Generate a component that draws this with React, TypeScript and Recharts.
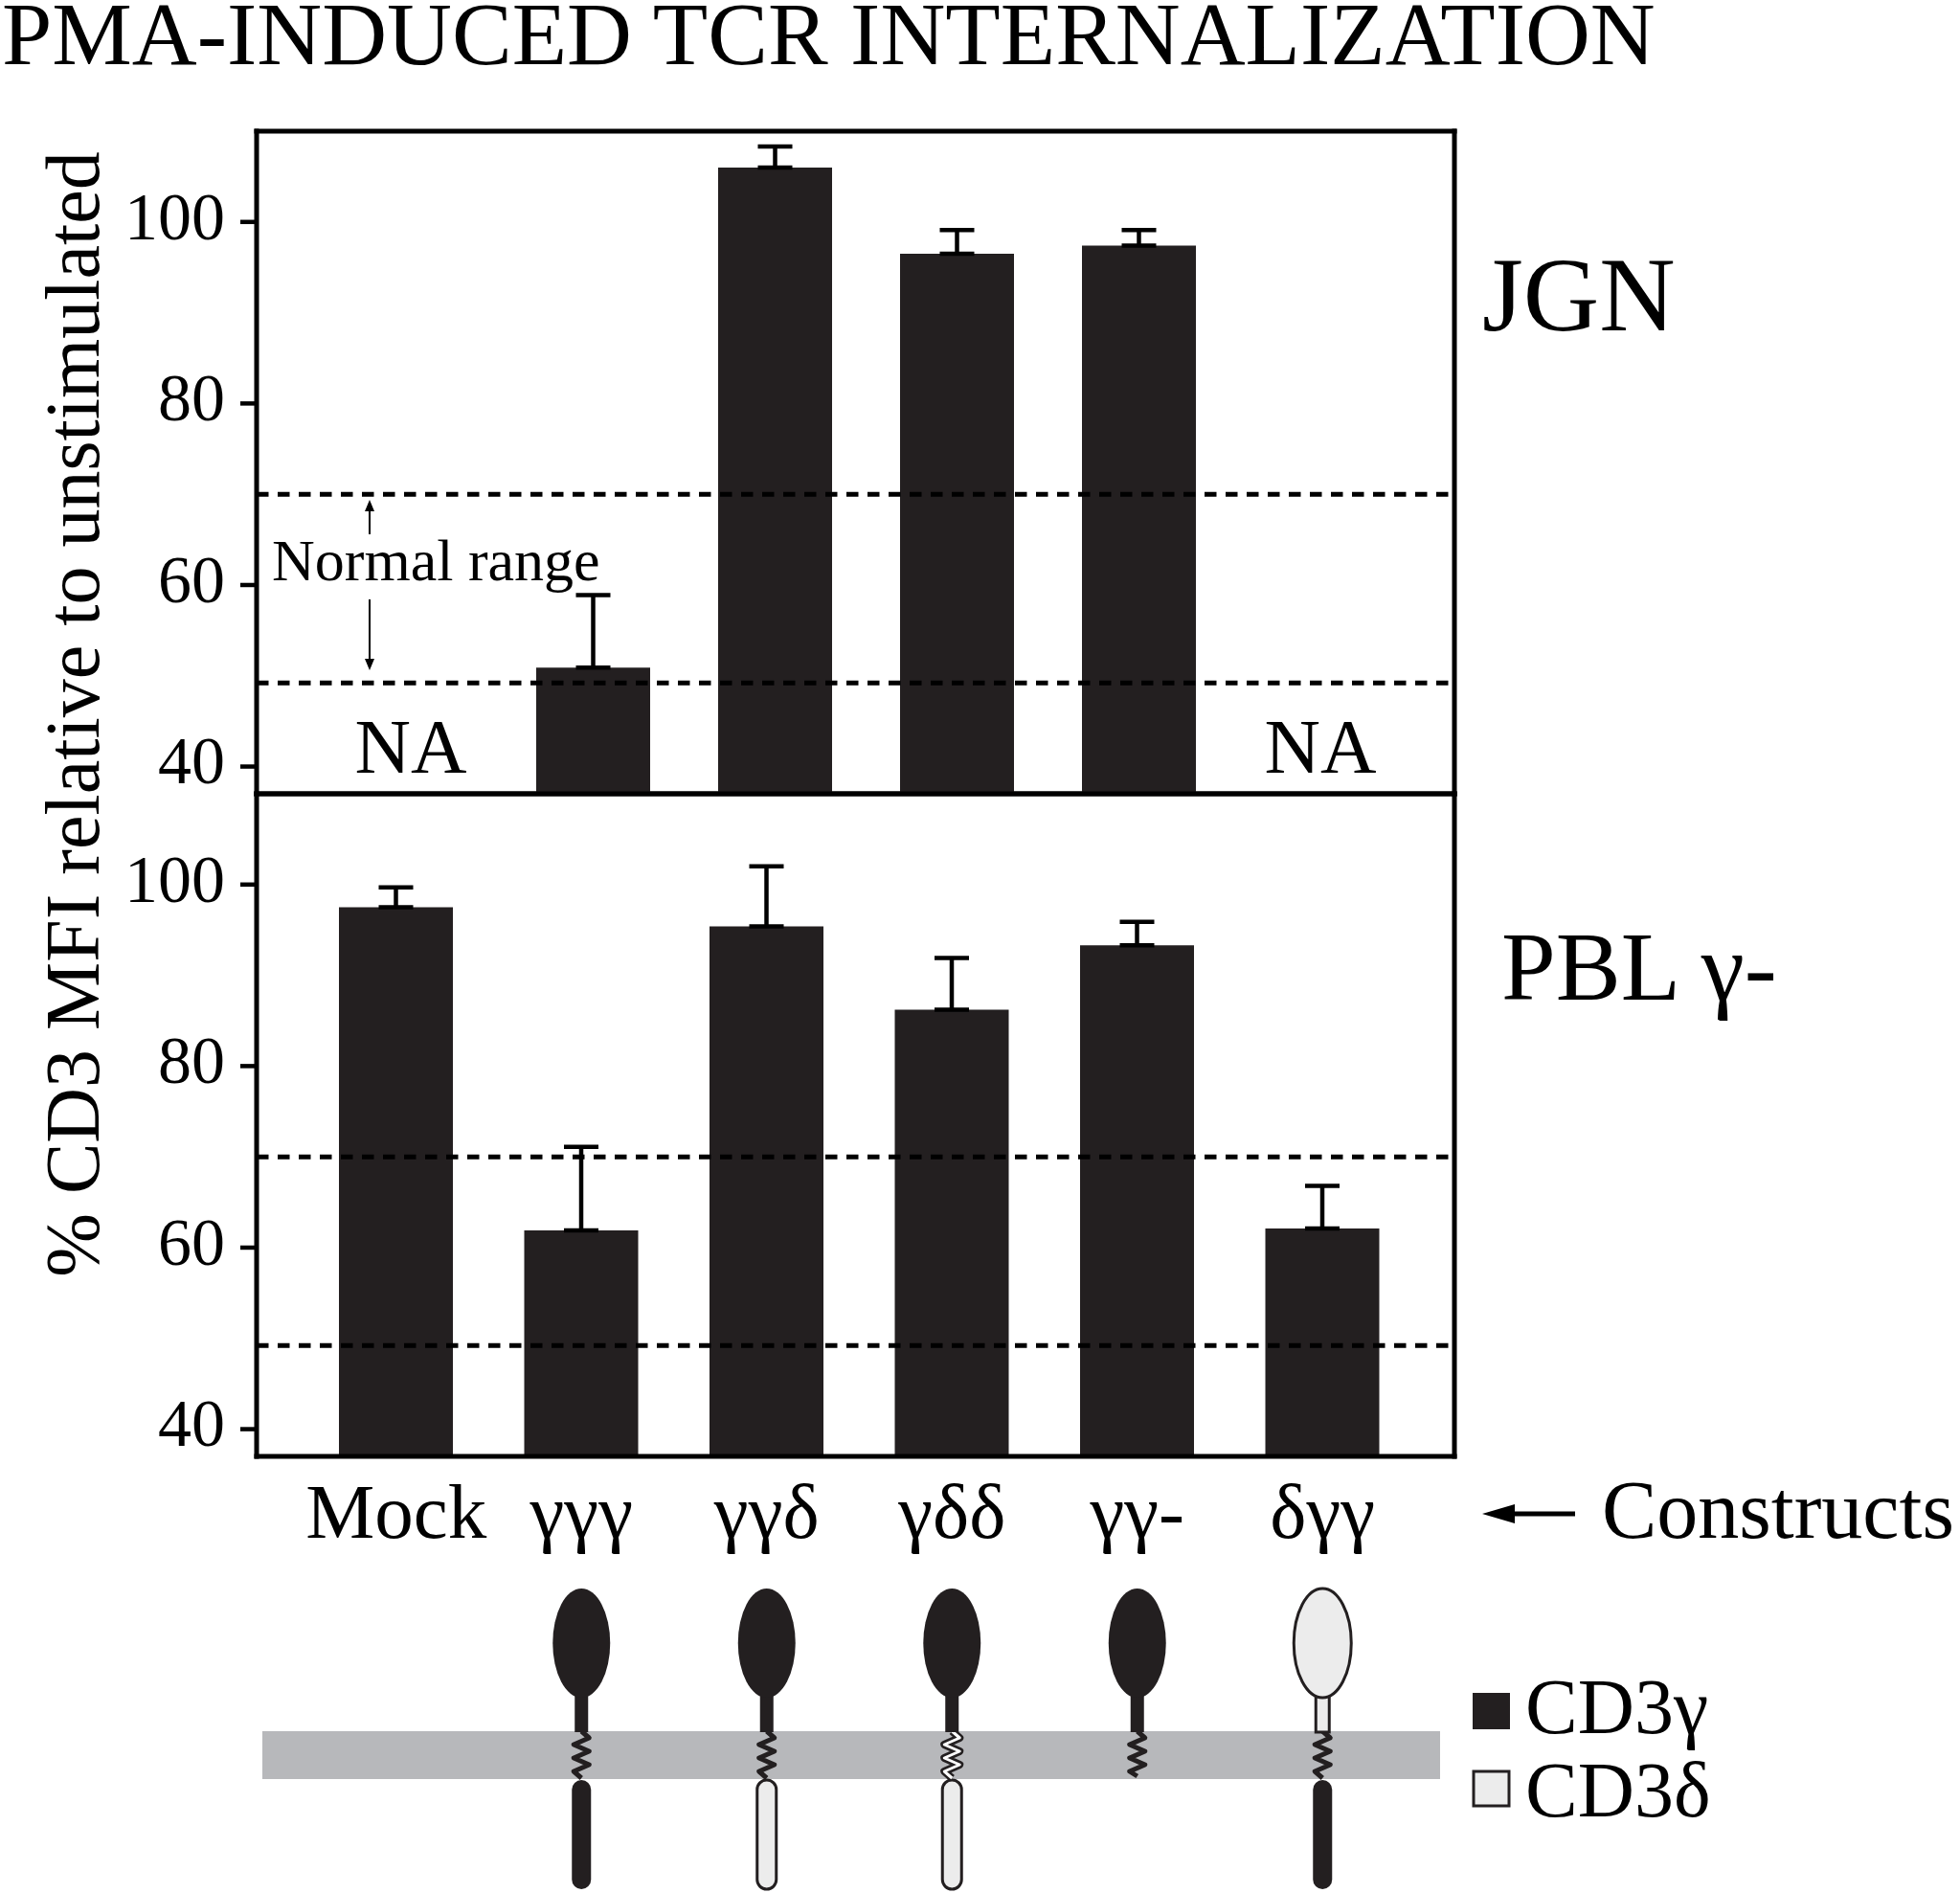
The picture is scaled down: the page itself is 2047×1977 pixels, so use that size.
import React from "react";
import { BarChart, Bar, XAxis, YAxis, ErrorBar, ReferenceLine } from "recharts";

const constructs = ["Mock", "γγγ", "γγδ", "γδδ", "γγ-", "δγγ"];
const jgnValues = [null, 50.9, 106.0, 96.5, 97.4, null];
const jgnErrors = [null, 8.0, 2.3, 2.6, 1.7, null];
const pblValues = [97.5, 61.9, 95.4, 86.2, 93.3, 62.1];
const pblErrors = [2.2, 9.2, 6.6, 5.7, 2.6, 4.7];
const yTicks = [40, 60, 80, 100];
const normalRange = [49.2, 70];
// which subunit each part of the construct comes from (extracellular / TM / cytoplasmic)
const headParts = [null, "γ", "γ", "γ", "γ", "δ"];
const tmParts = [null, "γ", "γ", "δ", "γ", "γ"];
const tailParts = [null, "γ", "δ", "δ", null, "γ"];

const FONT = '"Liberation Serif", "Times New Roman", serif';
const DARK = "#231f20";
const LIGHT = "#ececec";
const W = 2047;

const jgnData = constructs.map((name, i) => ({
  name,
  value: jgnValues[i],
  err: jgnErrors[i] == null ? null : [0, jgnErrors[i]],
}));
const pblData = constructs.map((name, i) => ({
  name,
  value: pblValues[i],
  err: [0, pblErrors[i]],
}));

const frameLine = { stroke: "#000", strokeWidth: 5, strokeLinecap: "square" as const };
const yTick = { fontSize: 70, fill: "#000", fontFamily: FONT, dy: -7 };

function ConstructTick(props: any) {
  const { x, y, payload } = props;
  const i = constructs.indexOf(payload.value);
  const head = headParts[i];
  const tm = tmParts[i];
  const tail = tailParts[i];
  const fillOf = (p: string | null) => (p === "δ" ? LIGHT : DARK);
  const strokeOf = (p: string | null) => (p === "δ" ? DARK : "none");

  const zig: string[] = [];
  const z0 = y + 287;
  const zEnd = tail ? y + 336 : y + 334;
  zig.push(`${x},${z0}`);
  for (let k = 1; k < 7; k++) zig.push(`${x + (k % 2 ? 8 : -8)},${z0 + k * 7}`);
  zig.push(`${x},${zEnd}`);
  const pts = zig.join(" ");

  return (
    <g>
      <text x={x} y={y + 85} textAnchor="middle" fontSize={81} fontFamily={FONT} fill="#000">
        {payload.value}
      </text>
      {head && (
        <g>
          {tail && (
            <rect x={x - 10} y={y + 338} width={20} height={114} rx={10}
              fill={fillOf(tail)} stroke={strokeOf(tail)} strokeWidth={3} />
          )}
          {tm === "δ" ? (
            <g>
              <polyline points={pts} fill="none" stroke={DARK} strokeWidth={8} strokeLinejoin="round" />
              <polyline points={pts} fill="none" stroke="#fff" strokeWidth={3} strokeLinejoin="round" />
            </g>
          ) : (
            <polyline points={pts} fill="none" stroke={DARK} strokeWidth={5} strokeLinejoin="round" />
          )}
          <rect x={x - 7} y={y + 245} width={14} height={43}
            fill={fillOf(head)} stroke={strokeOf(head)} strokeWidth={3} />
          <ellipse cx={x} cy={y + 195} rx={30} ry={57}
            fill={fillOf(head)} stroke={strokeOf(head)} strokeWidth={3} />
        </g>
      )}
    </g>
  );
}

export default function App() {
  return (
    <div style={{ position: "absolute", left: 0, top: 0, width: W, height: 1977, background: "#fff" }}>
      <svg width={W} height={1977} style={{ position: "absolute", left: 0, top: 0 }}>
        <text x={2} y={67} fontSize={94} fontFamily={FONT} fill="#000">PMA-INDUCED TCR INTERNALIZATION</text>
        <text x={103} y={746} fontSize={80} fontFamily={FONT} fill="#000" textAnchor="middle"
          transform="rotate(-90 103 746)">% CD3 MFI relative to unstimulated</text>
        <text x={1548} y={345} fontSize={110} fontFamily={FONT} fill="#000">JGN</text>
        <text x={1568} y={1044} fontSize={102} fontFamily={FONT} fill="#000">PBL γ-</text>
        <text x={284} y={606} fontSize={62} fontFamily={FONT} fill="#000">Normal range</text>
        <line x1={386} y1={558} x2={386} y2={530} stroke="#000" strokeWidth={2} />
        <polygon points="386,522 381,534 391,534" fill="#000" />
        <line x1={386} y1={626} x2={386} y2={692} stroke="#000" strokeWidth={2} />
        <polygon points="386,700 381,688 391,688" fill="#000" />
        <line x1={1572} y1={1581} x2={1645} y2={1581} stroke="#000" strokeWidth={5} />
        <polygon points="1548,1581 1582,1571 1582,1591" fill="#000" />
        <text x={1673} y={1606} fontSize={86} fontFamily={FONT} fill="#000">Constructs</text>
        <rect x={274} y={1808} width={1230} height={50} fill="#b7b8bb" />
        <rect x={1538} y={1768} width={39} height={38} fill={DARK} />
        <text x={1593} y={1810} fontSize={82} fontFamily={FONT} fill="#000">CD3γ</text>
        <rect x={1539} y={1850} width={37} height={36} fill={LIGHT} stroke={DARK} strokeWidth={3} />
        <text x={1593} y={1897} fontSize={82} fontFamily={FONT} fill="#000">CD3δ</text>
      </svg>

      <div style={{ position: "absolute", left: 0, top: 0 }}>
        <BarChart width={W} height={1977} data={pblData}
          margin={{ top: 828, right: W - 1520, bottom: 0, left: 148 }}>
          <XAxis dataKey="name" height={456} axisLine={frameLine} tickLine={false} tickSize={0}
            tickMargin={0} interval={0} padding={{ left: 49, right: 41 }} tick={<ConstructTick />} />
          <XAxis xAxisId="top" dataKey="name" orientation="top" height={1} tick={false}
            tickLine={false} axisLine={frameLine} />
          <YAxis type="number" domain={[37, 110]} ticks={yTicks} width={120} axisLine={frameLine}
            tickLine={{ stroke: "#000", strokeWidth: 4.5 }} tickSize={17} tickMargin={16} tick={yTick} />
          <YAxis yAxisId="right" orientation="right" width={1} tick={false} tickLine={false}
            axisLine={frameLine} />
          {normalRange.map((v) => (
            <ReferenceLine key={v} y={v} stroke="#000" strokeWidth={5} strokeDasharray="12.5 9.5" />
          ))}
          <Bar dataKey="value" fill={DARK} barSize={119} isAnimationActive={false}>
            <ErrorBar dataKey="err" width={18} stroke="#000" strokeWidth={4.5} isAnimationActive={false} />
          </Bar>
        </BarChart>
      </div>

      <div style={{ position: "absolute", left: 0, top: 0 }}>
        <BarChart width={W} height={880} data={jgnData}
          margin={{ top: 136, right: W - 1520, bottom: 50, left: 148 }}>
          <XAxis dataKey="name" height={1} axisLine={frameLine} tick={false} tickLine={false}
            padding={{ left: 66, right: 45 }} />
          <XAxis xAxisId="top" dataKey="name" orientation="top" height={1} tick={false}
            tickLine={false} axisLine={frameLine} />
          <YAxis type="number" domain={[37, 110]} ticks={yTicks} width={120} axisLine={frameLine}
            tickLine={{ stroke: "#000", strokeWidth: 4.5 }} tickSize={17} tickMargin={16} tick={yTick} />
          <YAxis yAxisId="right" orientation="right" width={1} tick={false} tickLine={false}
            axisLine={frameLine} />
          {normalRange.map((v) => (
            <ReferenceLine key={v} y={v} stroke="#000" strokeWidth={5} strokeDasharray="12.5 9.5" />
          ))}
          {["Mock", "δγγ"].map((c) => (
            <ReferenceLine key={c} x={c} stroke="none"
              label={{ value: "NA", position: "insideBottom", offset: 22, fontSize: 81, fill: "#000", fontFamily: FONT }} />
          ))}
          <Bar dataKey="value" fill={DARK} barSize={119} isAnimationActive={false}>
            <ErrorBar dataKey="err" width={18} stroke="#000" strokeWidth={4.5} isAnimationActive={false} />
          </Bar>
        </BarChart>
      </div>
    </div>
  );
}
